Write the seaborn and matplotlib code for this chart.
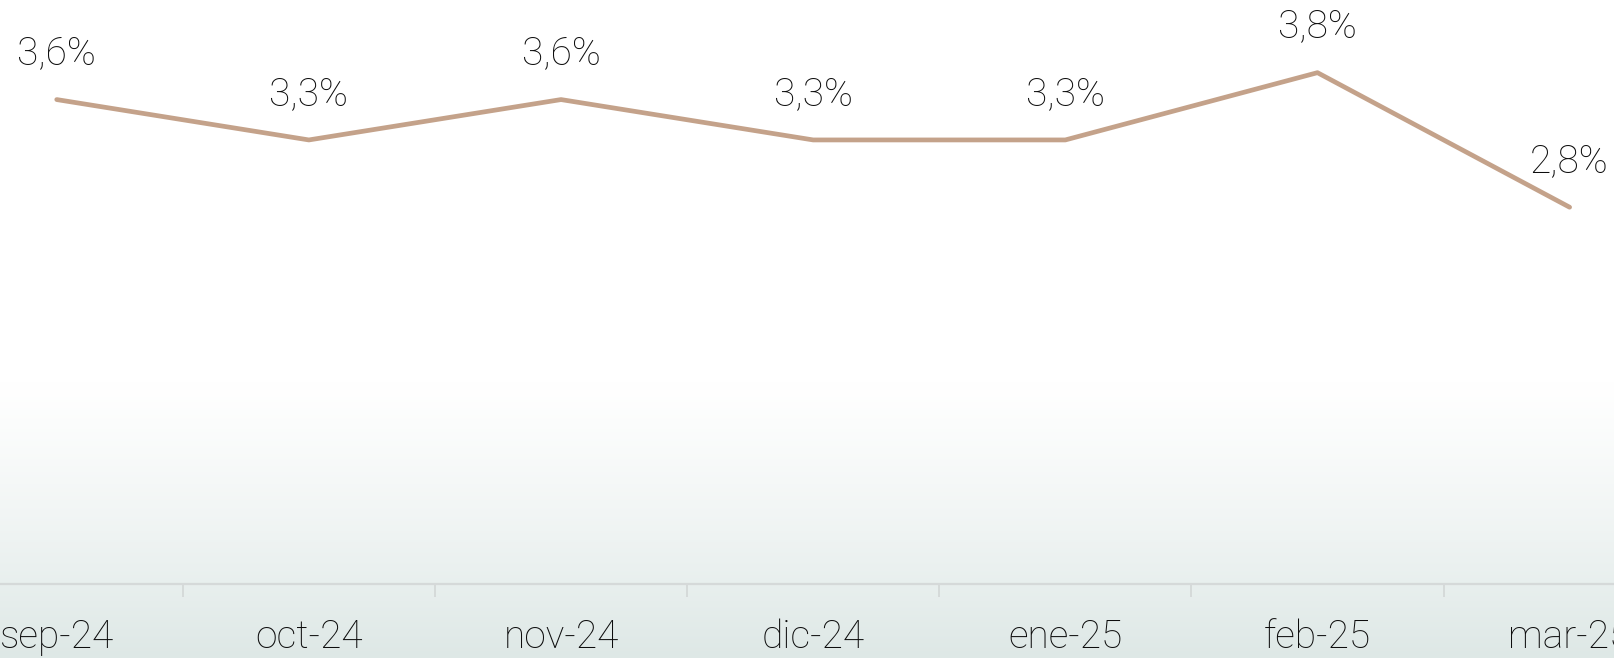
import seaborn as sns
import matplotlib.pyplot as plt
import numpy as np
import pandas as pd

meses = ['sep-24', 'oct-24', 'nov-24', 'dic-24', 'ene-25', 'feb-25', 'mar-25']
valores = [3.6, 3.3, 3.6, 3.3, 3.3, 3.8, 2.8]

df = pd.DataFrame({'mes': meses, 'valor': valores, 'pos': range(len(meses))})

sns.set_style('white')
plt.rcParams['font.family'] = ['Roboto', 'DejaVu Sans']

fig = plt.figure(figsize=(16.15, 6.58), dpi=100)

# fondo con degradado blanco -> gris verdoso
bg = fig.add_axes([0, 0, 1, 1], zorder=0)
h = 658
frac = np.linspace(0, 1, h)  # 0 = arriba, 1 = abajo
t = np.clip((frac - 0.58) / 0.42, 0, 1) ** 1.2
top = np.array([1.0, 1.0, 1.0])
bottom = np.array([0xde, 0xe8, 0xe6]) / 255
grad = top[None, :] * (1 - t[:, None]) + bottom[None, :] * t[:, None]
bg.imshow(grad[:, None, :], aspect='auto', extent=[0, 1, 0, 1], origin='upper')
bg.axis('off')

ax = fig.add_axes([0, 0.1125, 1, 0.8875], zorder=1)
ax.patch.set_alpha(0)

sns.lineplot(data=df, x='pos', y='valor', ax=ax, color='#c4a28a', linewidth=3.4,
             solid_capstyle='round', solid_joinstyle='round')

for x, v in zip(df['pos'], df['valor']):
    ax.annotate(f'{v:.1f}%'.replace('.', ','), (x, v), xytext=(0, 33),
                textcoords='offset points', ha='center', va='center',
                fontsize=28, fontweight='light', color='#0d0d0d')

ax.set_xlim(-0.225, 6.18)
ax.set_ylim(0, 4.34)
ax.set_xlabel('')
ax.set_ylabel('')
ax.set_yticks([])
ax.set_xticks(range(len(meses)))
ax.set_xticklabels(meses, fontsize=28, fontweight='light', color='#0d0d0d')
ax.set_xticks(np.arange(0.5, len(meses) - 1, 1), minor=True)
ax.tick_params(axis='x', which='major', bottom=False, length=0, pad=25)
ax.tick_params(axis='x', which='minor', bottom=True, length=9, width=1.2,
               color='#d2d6d6', direction='out')

for s in ['top', 'left', 'right']:
    ax.spines[s].set_visible(False)
ax.spines['bottom'].set_color('#d5d9d9')
ax.spines['bottom'].set_linewidth(1.6)

fig.savefig('out.png', dpi=100)
